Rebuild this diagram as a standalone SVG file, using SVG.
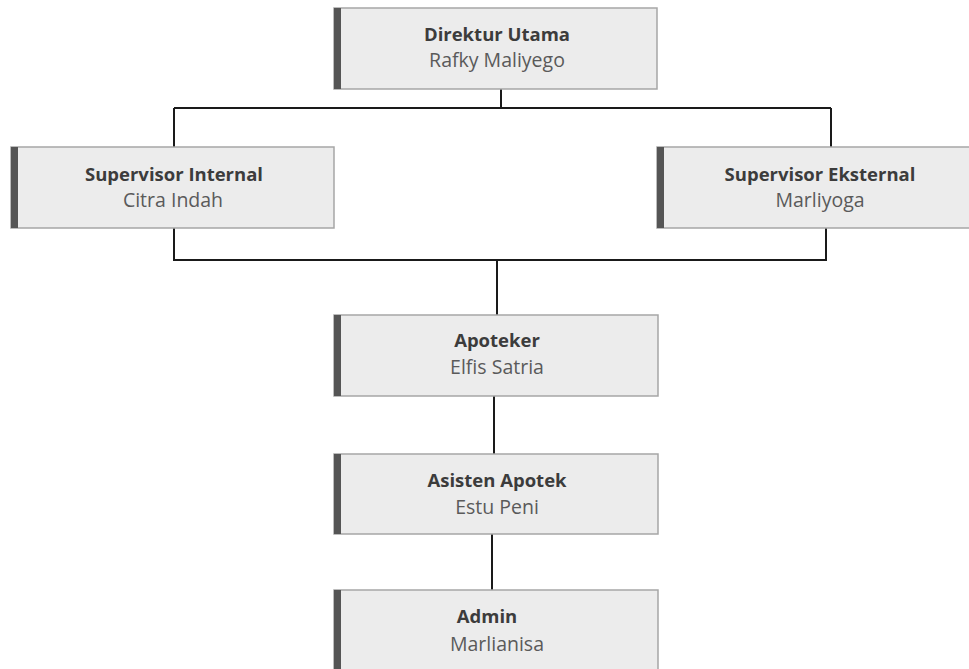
<svg xmlns="http://www.w3.org/2000/svg" width="969" height="669" viewBox="0 0 969 669">
<style>
.box{fill:#ececec;stroke:#a6a6a6;stroke-width:1.5}
.bar{fill:#555555}
.t{font-family:"Open Sans","Liberation Sans",sans-serif;font-size:18.5px;font-weight:bold;fill:#3c3c3c;text-anchor:middle}
.n{font-family:"Open Sans","Liberation Sans",sans-serif;font-size:19.5px;fill:#5a5a5a;text-anchor:middle}
.c{fill:none;stroke:#1a1a1a;stroke-width:2}
</style>
<rect width="969" height="669" fill="#ffffff"/>
<g id="connectors">
<path class="c" d="M501 89V108M174 108H831M174 108V147M831 108V147"/>
<path class="c" d="M174 228V260H826V228M497 260V315"/>
<path class="c" d="M494 396V454"/>
<path class="c" d="M492 534V590"/>
</g>
<g id="direktur">
<rect class="box" x="334" y="8" width="323" height="81"/>
<rect class="bar" x="334" y="8" width="7" height="81"/>
<text class="t" x="497" y="41">Direktur Utama</text>
<text class="n" x="497" y="67">Rafky Maliyego</text>
</g>
<g id="sup-internal">
<rect class="box" x="11" y="147" width="323" height="81"/>
<rect class="bar" x="11" y="147" width="7" height="81"/>
<text class="t" x="174" y="181">Supervisor Internal</text>
<text class="n" x="173" y="207">Citra Indah</text>
</g>
<g id="sup-eksternal">
<rect class="box" x="657" y="147" width="323" height="81"/>
<rect class="bar" x="657" y="147" width="7" height="81"/>
<text class="t" x="820" y="181">Supervisor Eksternal</text>
<text class="n" x="820" y="207">Marliyoga</text>
</g>
<g id="apoteker">
<rect class="box" x="334" y="315" width="324" height="81"/>
<rect class="bar" x="334" y="315" width="7" height="81"/>
<text class="t" x="497" y="347">Apoteker</text>
<text class="n" x="497" y="374">Elfis Satria</text>
</g>
<g id="asisten">
<rect class="box" x="334" y="454" width="324" height="80"/>
<rect class="bar" x="334" y="454" width="7" height="80"/>
<text class="t" x="497" y="487">Asisten Apotek</text>
<text class="n" x="497" y="514">Estu Peni</text>
</g>
<g id="admin">
<rect class="box" x="334" y="590" width="324" height="90"/>
<rect class="bar" x="334" y="590" width="7" height="90"/>
<text class="t" x="487" y="623">Admin</text>
<text class="n" x="497" y="651">Marlianisa</text>
</g>
</svg>
